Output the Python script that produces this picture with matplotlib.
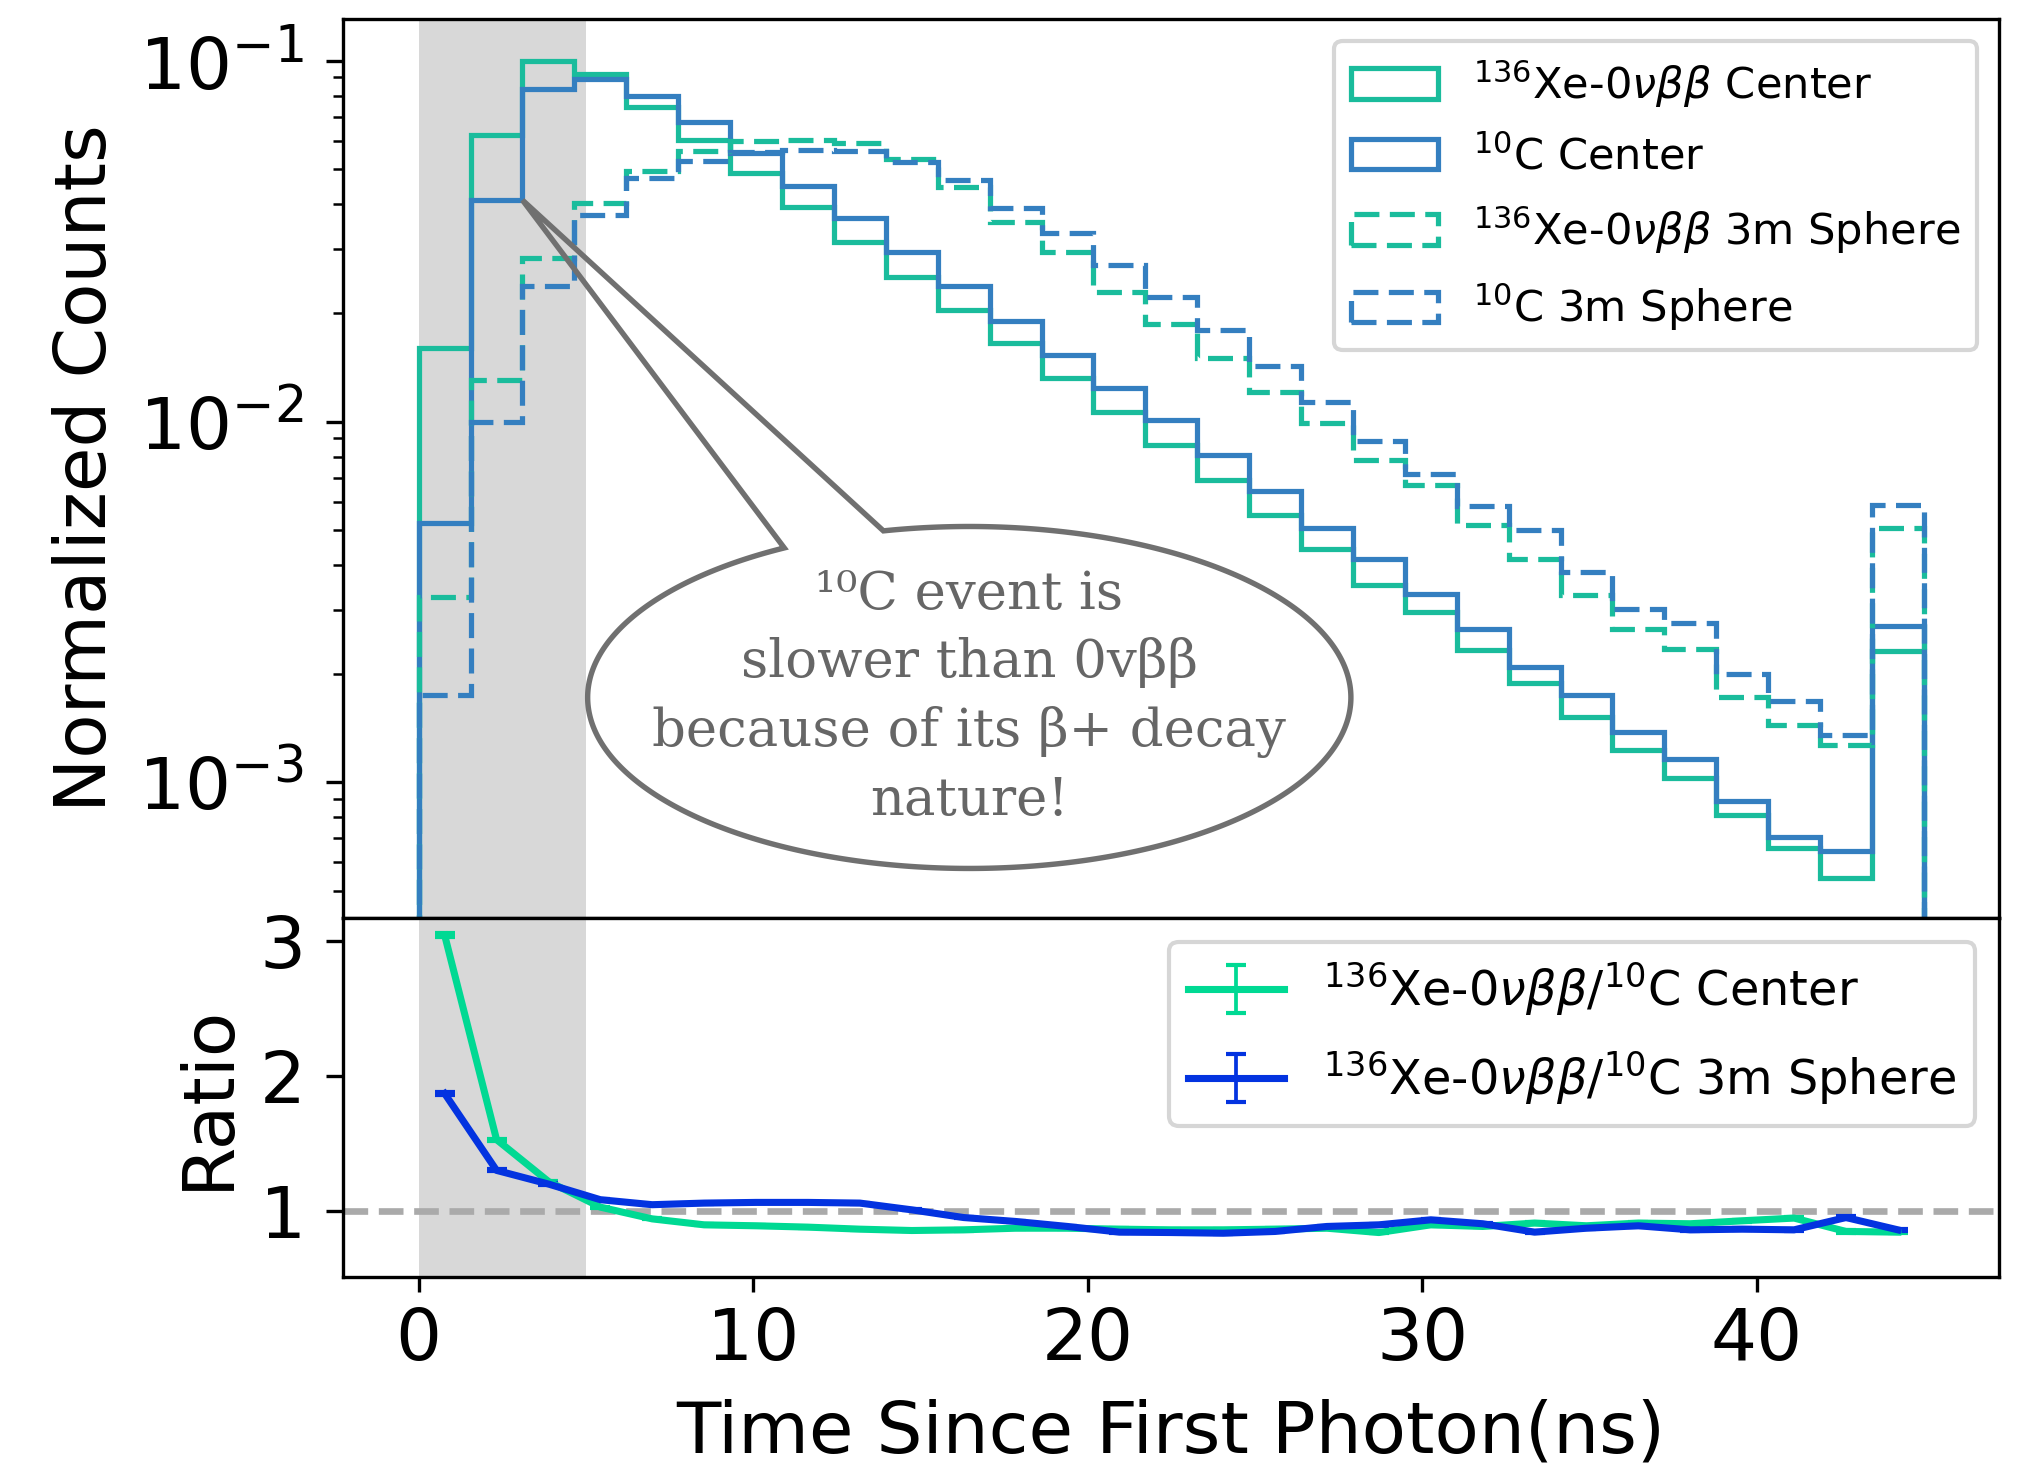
import numpy as np
import matplotlib
matplotlib.use("Agg")
import matplotlib.pyplot as plt
from matplotlib.patches import Polygon

# Time bins (ns)
edges = np.linspace(0, 45, 30)

# Normalized photon-time histograms
xe_center = [0.0160, 0.0622, 0.1000, 0.0919, 0.0746, 0.0603, 0.0490, 0.0393,
             0.0315, 0.0252, 0.0204, 0.01656, 0.01324, 0.01066, 0.00861,
             0.00689, 0.00552, 0.00443, 0.00352, 0.00296, 0.00233, 0.00189,
             0.00152, 0.00123, 0.00103, 0.000814, 0.000658, 0.000543, 0.00232]
c_center = [0.00523, 0.0411, 0.0838, 0.0888, 0.0800, 0.0676, 0.0557, 0.0451,
            0.0366, 0.0296, 0.0238, 0.0190, 0.0153, 0.01238, 0.0101,
            0.00809, 0.00644, 0.00508, 0.00416, 0.00333, 0.00267, 0.00209,
            0.00175, 0.00138, 0.00116, 0.00089, 0.000704, 0.000644, 0.00272]
xe_sphere = [0.00327, 0.01304, 0.0284, 0.0403, 0.0496, 0.0564, 0.0600, 0.0605,
             0.0590, 0.0533, 0.0448, 0.0358, 0.0296, 0.0229, 0.01866,
             0.0150, 0.0121, 0.00993, 0.00783, 0.00668, 0.00518, 0.00417,
             0.00331, 0.00267, 0.00234, 0.00173, 0.00144, 0.00127, 0.00506]
c_sphere = [0.00175, 0.0100, 0.0237, 0.0374, 0.0474, 0.0527, 0.0560, 0.0566,
            0.0562, 0.0523, 0.0467, 0.0390, 0.0333, 0.0272, 0.0222,
            0.01795, 0.01426, 0.01132, 0.00886, 0.00716, 0.00584, 0.00501,
            0.00383, 0.00303, 0.00276, 0.00200, 0.00168, 0.00135, 0.00587]

# Ratios Xe / C per bin, with uncertainties
ratio_center = [3.04, 1.527, 1.217, 1.027, 0.940, 0.896, 0.889, 0.879, 0.864,
                0.854, 0.859, 0.871, 0.871, 0.864, 0.859, 0.859, 0.864, 0.871,
                0.839, 0.896, 0.884, 0.909, 0.889, 0.909, 0.904, 0.926, 0.946,
                0.847, 0.842]
ratio_sphere = [1.868, 1.299, 1.198, 1.082, 1.045, 1.057, 1.062, 1.062, 1.057,
                1.007, 0.950, 0.921, 0.884, 0.842, 0.839, 0.834, 0.847, 0.884,
                0.896, 0.933, 0.904, 0.842, 0.871, 0.889, 0.859, 0.864, 0.859,
                0.950, 0.859]
err_center = [0.015, 0.008, 0.005, 0.004, 0.004, 0.004, 0.004, 0.004, 0.004,
              0.004, 0.005, 0.005, 0.005, 0.005, 0.006, 0.006, 0.006, 0.006,
              0.007, 0.007, 0.007, 0.008, 0.008, 0.008, 0.009, 0.009, 0.009,
              0.010, 0.006]
err_sphere = [0.012, 0.007, 0.005, 0.004, 0.004, 0.004, 0.004, 0.004, 0.004,
              0.004, 0.004, 0.004, 0.005, 0.005, 0.005, 0.005, 0.005, 0.006,
              0.006, 0.006, 0.006, 0.007, 0.007, 0.007, 0.007, 0.008, 0.008,
              0.008, 0.005]

hist_labels = [r'$^{136}$Xe-0$\nu\beta\beta$ Center', r'$^{10}$C Center',
               r'$^{136}$Xe-0$\nu\beta\beta$ 3m Sphere', r'$^{10}$C 3m Sphere']
ratio_labels = [r'$^{136}$Xe-0$\nu\beta\beta/^{10}$C Center',
                r'$^{136}$Xe-0$\nu\beta\beta/^{10}$C 3m Sphere']

teal = '#1abc9c'
blue = '#347fc0'
r_teal = '#00d993'
r_blue = '#0333e0'
dash = (0, (4.8, 2.0))
fs_tick = 17.4
fs_label = 17.4

fig = plt.figure(figsize=(6.75, 4.9), dpi=300)
gs = fig.add_gridspec(2, 1, height_ratios=[2.5, 1], hspace=0,
                      left=0.1696, right=0.9872, top=0.987, bottom=0.1313)
ax = fig.add_subplot(gs[0])
axr = fig.add_subplot(gs[1], sharex=ax)

lefts = edges[:-1]
lw_h = 1.25
ax.hist(lefts, bins=edges, weights=xe_center, histtype='step', color=teal,
        lw=lw_h, log=True, label=hist_labels[0])
ax.hist(lefts, bins=edges, weights=c_center, histtype='step', color=blue,
        lw=lw_h, log=True, label=hist_labels[1])
ax.hist(lefts, bins=edges, weights=xe_sphere, histtype='step', color=teal,
        lw=lw_h, ls=dash, log=True, label=hist_labels[2])
ax.hist(lefts, bins=edges, weights=c_sphere, histtype='step', color=blue,
        lw=lw_h, ls=dash, log=True, label=hist_labels[3])
ax.axvspan(0, 5, color='gray', alpha=0.3, lw=0)
ax.set_ylim(4.22e-4, 0.1305)
ax.set_ylabel('Normalized Counts', fontsize=fs_label)
ax.tick_params(axis='y', which='major', labelsize=fs_tick, length=4, pad=5.5)
ax.tick_params(axis='y', which='minor', length=2.4)
ax.tick_params(axis='x', which='both', bottom=False, labelbottom=False)
ax.legend(loc='upper right', fontsize=10.4, labelspacing=0.6)

# Ratio panel
centers = 0.5 * (edges[1:] + edges[:-1])
axr.axvspan(0, 5, color='gray', alpha=0.3, lw=0)
axr.axhline(1, color='#aaaaaa', ls='--', lw=1.6, zorder=1.5)
axr.errorbar(centers, ratio_center, yerr=err_center, color=r_teal, lw=1.7,
             elinewidth=0.9, capsize=2.3, label=ratio_labels[0])
axr.errorbar(centers, ratio_sphere, yerr=err_sphere, color=r_blue, lw=1.7,
             elinewidth=0.9, capsize=2.3, label=ratio_labels[1])
axr.set_ylim(0.51, 3.17)
axr.set_yticks([1, 2, 3])
axr.tick_params(labelsize=fs_tick)
axr.tick_params(axis='y', length=4, pad=5.0)
axr.set_ylabel('Ratio', fontsize=fs_label)
axr.set_xlabel('Time Since First Photon(ns)', fontsize=fs_label, labelpad=5.5)
axr.legend(loc='upper right', fontsize=11.5, labelspacing=0.65)

# Speech-bubble callout pointing at the 10C rise
ax.get_xlim()
cx, cy, a, b = 0.378, 0.245, 0.2305, 0.1903
theta = np.linspace(np.deg2rad(119), np.deg2rad(103) + 2 * np.pi, 500)
arc = np.column_stack([cx + a * np.cos(theta), cy + b * np.sin(theta)])
tip = ax.transAxes.inverted().transform(
    ax.transData.transform((edges[2], c_center[1])))
bubble = Polygon(np.vstack([arc, tip]), closed=True, transform=ax.transAxes,
                 fc='none', ec='#707070', lw=1.3, zorder=5, clip_on=False)
ax.add_patch(bubble)
ax.text(cx, cy, '¹⁰C event is\nslower than 0vββ\nbecause of its β+ decay\nnature!',
        transform=ax.transAxes, ha='center', va='center', fontsize=12.7,
        family='DejaVu Serif', color='#666666', linespacing=1.44, zorder=6)

fig.savefig('out.png', dpi=300)
